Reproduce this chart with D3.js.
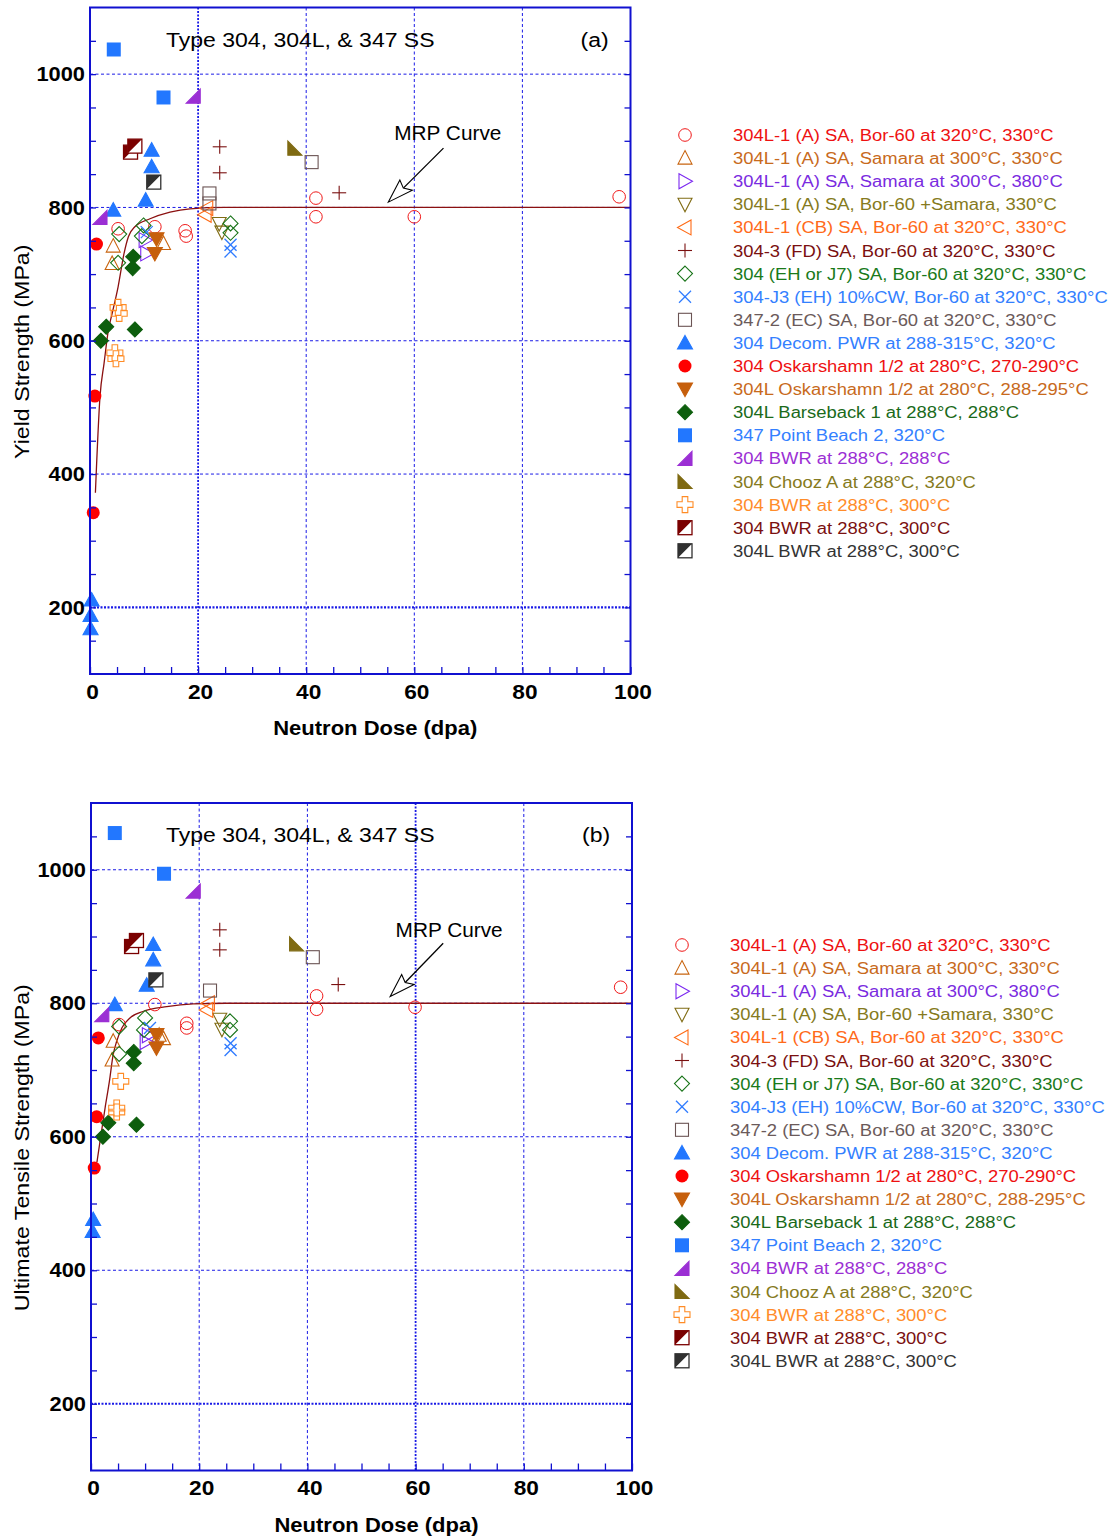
<!DOCTYPE html>
<html><head><meta charset="utf-8">
<script src="https://cdn.jsdelivr.net/npm/d3@7/dist/d3.min.js"></script>
<style>body{margin:0;background:#fff} text{font-family:Arial,"Liberation Sans",sans-serif}</style>
</head><body><svg id="c" width="1116" height="1538"></svg>
<script>
// ---------------- DATA ----------------
const legendLabels = [
 "304L-1 (A) SA, Bor-60 at 320°C, 330°C",
 "304L-1 (A) SA, Samara at 300°C, 330°C",
 "304L-1 (A) SA, Samara at 300°C, 380°C",
 "304L-1 (A) SA, Bor-60 +Samara, 330°C",
 "304L-1 (CB) SA, Bor-60 at 320°C, 330°C",
 "304-3 (FD) SA, Bor-60 at 320°C, 330°C",
 "304 (EH or J7) SA, Bor-60 at 320°C, 330°C",
 "304-J3 (EH) 10%CW, Bor-60 at 320°C, 330°C",
 "347-2 (EC) SA, Bor-60 at 320°C, 330°C",
 "304 Decom. PWR at 288-315°C, 320°C",
 "304 Oskarshamn 1/2 at 280°C, 270-290°C",
 "304L Oskarshamn 1/2 at 280°C, 288-295°C",
 "304L Barseback 1 at 288°C, 288°C",
 "347 Point Beach 2, 320°C",
 "304 BWR at 288°C, 288°C",
 "304 Chooz A at 288°C, 320°C",
 "304 BWR at 288°C, 300°C",
 "304 BWR at 288°C, 300°C",
 "304L BWR at 288°C, 300°C"];

const xTickValues = [0, 20, 40, 60, 80, 100];
const yTickValues = [200, 400, 600, 800, 1000];

// Yield strength (panel a): [dose dpa, MPa]
const ys01 = [[5.2,768],[12,771],[17.6,765],[17.8,757],[41.8,814],[41.8,786],[60,786],[97.9,816]];
const ys02 = [[4.3,742],[4.1,716],[13.6,746]];
const ys03 = [[10.2,751],[10.5,731]];
const ys04 = [[23.9,776],[24.4,763]];
const ys05 = [[21.6,799],[21.3,789]];
const ys06 = [[24,891],[24,852],[46.1,822]];
const ys07 = [[5.4,760],[5.2,717],[9.9,773],[9.6,757],[26,776],[26,762]];
const ys08 = [[10.5,763],[26,744],[26,734]];
const ys09 = [[22.1,821],[22.1,806],[41,868]];
const ys10 = [[4.3,796],[10.3,811],[11.4,861],[11.4,886],[0.3,211],[0.1,188],[0.1,168]];
const ys11 = [[1.2,745],[0.9,517],[0.6,342]];
const ys12 = [[12.3,753],[12,731]];
const ys13 = [[8,726],[7.9,709],[3,621],[2,600],[8.3,617]];
const ys14 = [[4.4,1037],[13.6,965]];
const ys15 = [[19.1,967],[1.85,785]];
const ys16 = [[37.9,889]];
const ys17 = [[5.2,650],[5.4,641],[4.6,582],[4.8,573]];
const ys18 = [[7.5,883],[8.3,892]];
const ys19 = [[11.8,838]];

// Ultimate tensile strength (panel b): [dose dpa, MPa]
const ut01 = [[5.2,768],[11.8,798],[17.7,770],[17.7,763],[41.7,811],[41.7,791],[59.9,794],[97.9,824]];
const ut02 = [[4.1,743],[3.9,715],[13.4,747],[12.6,752]];
const ut03 = [[10.2,742],[10.6,752]];
const ut04 = [[23.8,776],[24.2,761]];
const ut05 = [[21.7,800],[21.4,790]];
const ut06 = [[23.8,910],[23.8,880],[45.7,828]];
const ut07 = [[5.2,765],[5.2,724],[10,778],[9.8,760],[25.7,773],[25.7,760]];
const ut08 = [[10.9,763],[25.8,740],[25.8,730]];
const ut09 = [[22,819],[41,869]];
const ut10 = [[4.4,798],[10.3,827],[11.5,865],[11.5,888],[0.4,476],[0.3,458]];
const ut11 = [[1.35,748],[1.05,630],[0.6,553]];
const ut12 = [[12.1,753],[12.1,733]];
const ut13 = [[7.9,727],[7.9,710],[3.2,621],[2.2,600],[8.4,618]];
const ut14 = [[4.4,1055],[13.5,994]];
const ut15 = [[18.9,968],[2,783]];
const ut16 = [[38,889]];
const ut17 = [[5.5,683],[4.75,643],[4.75,637]];
const ut18 = [[7.5,885],[8.4,894]];
const ut19 = [[12,835]];

// MRP curves
const mrpYieldDose     = [1.0, 1.85, 2.6, 3.4, 4.1, 5.2, 6.3, 7.1, 8.3, 11.1, 14.8, 18.5, 25, 100];
const mrpYieldStrength = [372, 516, 566, 616, 641, 681, 731, 756, 771, 783, 793, 798, 800, 800];
const mrpUtsDose       = [1.1, 1.85, 2.6, 3.4, 4.1, 4.75, 5.7, 7.2, 9.7, 14, 18.9, 25, 100];
const mrpUtsStrength   = [562, 603, 643, 683, 723, 743, 763, 778, 788, 795, 799, 800, 800];

// ---------------- STYLES ----------------
const markerTypes = ["circleOpen","triUpOpen","triRightOpen","triDownOpen","triLeftOpen","plus",
  "diamondOpen","xmark","squareOpen","triUp","circle","triDown","diamond","square",
  "wedgeBR","wedgeBL","crossOpen","halfSq","halfSq"];
const seriesColors = ["#f01818","#c8640f","#7b28f0","#806c14","#ff6a14","#7a1010",
  "#177317","#2f7bff","#6b5454","#2277ff","#ff0000","#c65f0c","#0d5e0d","#2277ff",
  "#9b2fd4","#7f6a12","#ff8c26","#7a0000","#303030"];
const legendTextColors = ["#ee1111","#c86a1c","#7a2be0","#857a20","#ff6a1a","#7a1010",
  "#1a7a1a","#3380ff","#6b5a5a","#3380ff","#ee1111","#c86a1c","#1a6a1a","#3380ff",
  "#9b2fd4","#857a20","#ff8c2a","#7a1010","#333333"];

const yieldSeries = [ys01,ys02,ys03,ys04,ys05,ys06,ys07,ys08,ys09,ys10,ys11,ys12,ys13,ys14,ys15,ys16,ys17,ys18,ys19];
const utsSeries = [ut01,ut02,ut03,ut04,ut05,ut06,ut07,ut08,ut09,ut10,ut11,ut12,ut13,ut14,ut15,ut16,ut17,ut18,ut19];

const svg = d3.select("#c");
const AXIS = "#1010d0", GRID = "#1a1ae6";

// widen text horizontally (reference font is wider than Arial)
function stretch(sel, f) {
  sel.each(function () {
    const L = this.getComputedTextLength();
    d3.select(this).attr("textLength", L * f).attr("lengthAdjust", "spacingAndGlyphs");
  });
  return sel;
}

function drawMarker(g, type, color, cx, cy) {
  const s = g.append("g").attr("transform", `translate(${cx},${cy})`);
  const poly = (pts, fill) => s.append("polygon")
    .attr("points", pts.map(p => p.join(",")).join(" "))
    .attr("fill", fill ? color : "none").attr("stroke", color).attr("stroke-width", 1.1);
  switch (type) {
    case "circleOpen": s.append("circle").attr("r", 6.3).attr("fill","none").attr("stroke",color).attr("stroke-width",1); break;
    case "triUpOpen": poly([[0,-7.5],[7,6],[-7,6]], false); break;
    case "triRightOpen": poly([[-6,-7.5],[7.5,0],[-6,7.5]], false); break;
    case "triDownOpen": poly([[-7,-6],[7,-6],[0,7.5]], false); break;
    case "triLeftOpen": poly([[6,-7.5],[-7.5,0],[6,7.5]], false); break;
    case "plus":
      s.append("line").attr("x1",-7).attr("x2",7).attr("stroke",color).attr("stroke-width",1.1);
      s.append("line").attr("y1",-7).attr("y2",7).attr("stroke",color).attr("stroke-width",1.1); break;
    case "diamondOpen": poly([[0,-7.5],[7.5,0],[0,7.5],[-7.5,0]], false); break;
    case "xmark":
      s.append("line").attr("x1",-6).attr("y1",-6).attr("x2",6).attr("y2",6).attr("stroke",color).attr("stroke-width",1.3);
      s.append("line").attr("x1",-6).attr("y1",6).attr("x2",6).attr("y2",-6).attr("stroke",color).attr("stroke-width",1.3); break;
    case "squareOpen": s.append("rect").attr("x",-6.5).attr("y",-6.5).attr("width",13).attr("height",13).attr("fill","none").attr("stroke",color).attr("stroke-width",1.1); break;
    case "triUp": poly([[0,-7.5],[7.5,6],[-7.5,6]], true); break;
    case "circle": s.append("circle").attr("r", 6.5).attr("fill",color); break;
    case "triDown": poly([[-7.5,-6],[7.5,-6],[0,7.5]], true); break;
    case "diamond": poly([[0,-7.5],[7.5,0],[0,7.5],[-7.5,0]], true); break;
    case "square": s.append("rect").attr("x",-7).attr("y",-7).attr("width",14).attr("height",14).attr("fill",color); break;
    case "wedgeBR": poly([[7,-7],[7,7],[-7,7]], true); break;
    case "wedgeBL": poly([[-7,-7],[-7,7],[7,7]], true); break;
    case "crossOpen": poly([[-2.8,-8],[2.8,-8],[2.8,-2.8],[8,-2.8],[8,2.8],[2.8,2.8],[2.8,8],[-2.8,8],[-2.8,2.8],[-8,2.8],[-8,-2.8],[-2.8,-2.8]], false); break;
    case "halfSq":
      s.append("rect").attr("x",-7).attr("y",-7).attr("width",14).attr("height",14).attr("fill","#fff").attr("stroke",color).attr("stroke-width",1.3);
      poly([[-7,-7],[7,-7],[-7,7]], true).attr("stroke","none"); break;
  }
}

function drawPanel(cfg) {
  const x = d3.scaleLinear().domain([0, 100]).range([cfg.left, cfg.right]);
  const y = d3.scaleLinear().domain([100, 1100]).range([cfg.bottom, cfg.top]);
  const g = svg.append("g");

  // gridlines
  yTickValues.forEach(v => {
    g.append("line").attr("x1", cfg.left).attr("x2", cfg.right).attr("y1", y(v)).attr("y2", y(v))
      .attr("stroke", GRID).attr("stroke-width", v === 200 ? 2.2 : 1)
      .attr("stroke-dasharray", v === 200 ? "2,1.5" : "3,2.5");
  });
  xTickValues.filter(v => v > 0 && v < 100).forEach(v => {
    g.append("line").attr("y1", cfg.top).attr("y2", cfg.bottom).attr("x1", x(v)).attr("x2", x(v))
      .attr("stroke", GRID).attr("stroke-width", v === cfg.thickX ? 1.8 : 1)
      .attr("stroke-dasharray", v === cfg.thickX ? "2,1.5" : "3,2.5");
  });

  // MRP curve
  const line = d3.line().x(d => x(d[0])).y(d => y(d[1])).curve(d3.curveMonotoneX);
  g.append("path").datum(cfg.mrpDose.map((d, i) => [d, cfg.mrpVal[i]]))
    .attr("d", line).attr("fill", "none").attr("stroke", "#8b1010").attr("stroke-width", 1.3);

  // points
  const pg = g.append("g");
  cfg.series.forEach((arr, i) => {
    arr.forEach(p => drawMarker(pg, markerTypes[i], seriesColors[i], x(p[0]), y(p[1])));
  });

  // axes (ticks inward)
  const minorY = d3.range(150, 1100, 50);
  const minorX = d3.range(0, 101, 5);
  const axStyle = sel => { sel.select(".domain").remove(); sel.selectAll(".tick line").attr("stroke", AXIS).attr("stroke-width", 1.3); };
  g.append("g").attr("transform", `translate(${cfg.left},0)`)
    .call(d3.axisLeft(y).tickValues(minorY).tickSize(-6).tickFormat("")).call(axStyle);
  g.append("g").attr("transform", `translate(${cfg.right},0)`)
    .call(d3.axisRight(y).tickValues(minorY).tickSize(-6).tickFormat("")).call(axStyle);
  g.append("g").attr("transform", `translate(0,${cfg.bottom})`)
    .call(d3.axisBottom(x).tickValues(minorX).tickSize(-7).tickFormat("")).call(axStyle);

  // tick labels
  const yl = g.append("g").attr("transform", `translate(${cfg.left - 5},0)`)
    .call(d3.axisLeft(y).tickValues(yTickValues).tickSize(0).tickPadding(0).tickFormat(d3.format("d")));
  yl.select(".domain").remove();
  stretch(yl.selectAll("text").attr("font-size", 21).attr("font-weight", "bold").attr("fill", "#000")
    .attr("font-family", "Arial, 'Liberation Sans', sans-serif"), 1.04);
  const xl = g.append("g").attr("transform", `translate(2,${cfg.bottom + 10})`)
    .call(d3.axisBottom(x).tickValues(xTickValues).tickSize(0).tickPadding(0).tickFormat(d3.format("d")));
  xl.select(".domain").remove();
  stretch(xl.selectAll("text").attr("font-size", 21).attr("font-weight", "bold").attr("fill", "#000")
    .attr("font-family", "Arial, 'Liberation Sans', sans-serif"), 1.08);

  // frame
  g.append("rect").attr("x", cfg.left).attr("y", cfg.top).attr("width", cfg.right - cfg.left)
    .attr("height", cfg.bottom - cfg.top).attr("fill", "none").attr("stroke", AXIS).attr("stroke-width", 2);

  // titles
  stretch(g.append("text").attr("x", (cfg.left + cfg.right) / 2 + 15).attr("y", cfg.bottom + 61)
    .attr("text-anchor", "middle").attr("font-size", 20).attr("font-weight", "bold").text("Neutron Dose (dpa)"), 1.1);
  stretch(g.append("text").attr("transform", `translate(29,${(cfg.top + cfg.bottom) / 2 + 11}) rotate(-90)`)
    .attr("text-anchor", "middle").attr("font-size", 20).text(cfg.yTitle), 1.16);
  stretch(g.append("text").attr("x", 166).attr("y", cfg.top + 39).attr("font-size", 20).text("Type 304, 304L, & 347 SS"), 1.15);
  stretch(g.append("text").attr("x", cfg.right - 50).attr("y", cfg.top + 39).attr("font-size", 20).text(cfg.tag), 1.15);

  // MRP annotation with open arrow
  const sx = x(cfg.arrowFrom[0]), sy = y(cfg.arrowFrom[1]);
  const tx = x(cfg.arrowTo[0]), ty = y(cfg.arrowTo[1]);
  stretch(g.append("text").attr("x", x(cfg.labelAt[0])).attr("y", y(cfg.labelAt[1]) + 7)
    .attr("text-anchor", "middle").attr("font-size", 20).text("MRP Curve"), 1.04);
  g.append("line").attr("x1", sx).attr("y1", sy).attr("x2", tx + 15).attr("y2", ty - 14)
    .attr("stroke", "#000").attr("stroke-width", 1.3);
  g.append("polygon").attr("points", [[tx,ty],[tx+11.5,ty-22],[tx+15,ty-14],[tx+24,ty-12]].map(p=>p.join(",")).join(" "))
    .attr("fill", "#fff").attr("stroke", "#000").attr("stroke-width", 1.1);

  // legend
  const lg = svg.append("g");
  legendLabels.forEach((lab, i) => {
    const yy = cfg.legendY + i * 23.1;
    drawMarker(lg, markerTypes[i], seriesColors[i], cfg.legendSymX, yy);
    stretch(lg.append("text").attr("x", cfg.legendSymX + 48).attr("y", yy + 6).attr("font-size", 16)
      .attr("fill", legendTextColors[i]).text(lab), 1.15);
  });
}

drawPanel({left: 90, right: 630.5, top: 7.5, bottom: 674, thickX: 20,
  series: yieldSeries, mrpDose: mrpYieldDose, mrpVal: mrpYieldStrength,
  yTitle: "Yield Strength (MPa)", tag: "(a)",
  arrowFrom: [65.4, 889], arrowTo: [55.2, 808], labelAt: [66.2, 911],
  legendY: 135, legendSymX: 685});

drawPanel({left: 91, right: 632, top: 803, bottom: 1470.5, thickX: 60,
  series: utsSeries, mrpDose: mrpUtsDose, mrpVal: mrpUtsStrength,
  yTitle: "Ultimate Tensile Strength (MPa)", tag: "(b)",
  arrowFrom: [65.1, 890], arrowTo: [55.3, 810], labelAt: [66.2, 910],
  legendY: 945, legendSymX: 682});
</script></body></html>
